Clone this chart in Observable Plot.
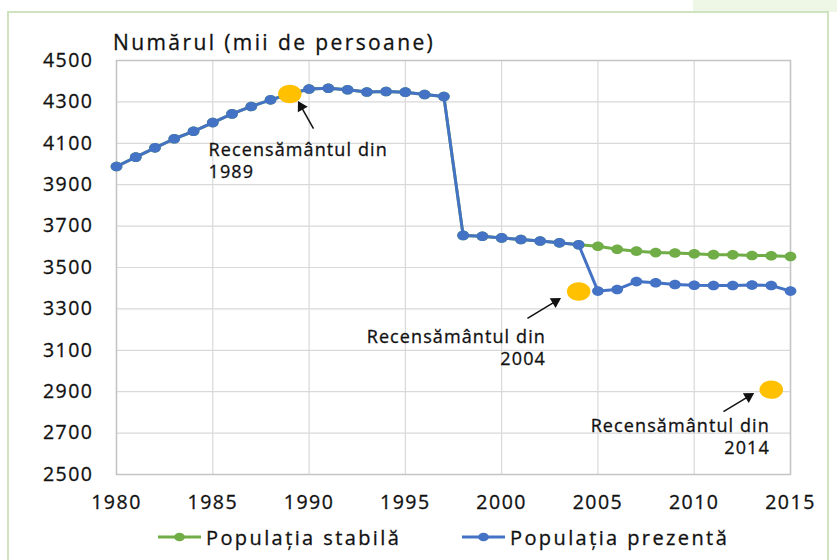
<!DOCTYPE html>
<html>
<head>
<meta charset="utf-8">
<script src="https://cdn.jsdelivr.net/npm/d3@7"></script>
<script src="https://cdn.jsdelivr.net/npm/@observablehq/plot@0.6"></script>
<style>
  html, body { margin: 0; padding: 0; background: #ffffff; }
  body { width: 837px; height: 560px; position: relative; overflow: hidden; font-family: "Open Sans", sans-serif; color: #111; }
  #deco { position: absolute; left: 693px; top: 0; width: 150px; height: 12px; background: #eef6e6; }
  #panel { position: absolute; left: 7px; top: 11px; width: 822px; height: 560px; border: 2px solid #cfe3c0; border-bottom: none; box-sizing: border-box; background: #fff; }
  #chart { position: absolute; left: 0; top: 0; }
  #title { position: absolute; left: 113px; top: 32px; font-size: 21px; letter-spacing: 2.4px; line-height: 1; white-space: nowrap; -webkit-text-stroke: 0.3px #111; }
  #legend { position: absolute; left: 0; top: 523px; width: 837px; height: 28px; font-size: 20px; letter-spacing: 2.4px; white-space: nowrap; -webkit-text-stroke: 0.3px #111; }
  .item { position: absolute; top: 0; display: flex; align-items: center; height: 28px; }
  .item svg { margin-right: 5px; }
  g[aria-label="x-axis tick label"], g[aria-label="y-axis tick label"] { letter-spacing: 1.5px; stroke: #111; stroke-width: 0.3px; }
  g[aria-label="text"] { letter-spacing: 1.1px; stroke: #111; stroke-width: 0.3px; }
</style>
</head>
<body>
<div id="deco"></div>
<div id="panel"></div>
<div id="chart"></div>
<div id="title"></div>
<div id="legend"></div>
<script>
// ---- data ----
const years = [1980,1981,1982,1983,1984,1985,1986,1987,1988,1989,1990,1991,1992,1993,1994,1995,1996,1997,1998,1999,2000,2001,2002,2003,2004,2005,2006,2007,2008,2009,2010,2011,2012,2013,2014,2015];
const prezenta = [3988,4033,4078,4122,4158,4200,4242,4278,4310,4338,4362,4366,4359,4348,4350,4347,4336,4326,3655,3651,3643,3635,3628,3619,3610,3386,3394,3432,3426,3418,3414,3413,3413,3415,3413,3386];
const stabila  = [3988,4033,4078,4122,4158,4200,4242,4278,4310,4338,4362,4366,4359,4348,4350,4347,4336,4326,3655,3651,3643,3635,3628,3619,3610,3603,3588,3579,3572,3570,3566,3562,3561,3558,3557,3553];
const censusYears = [1989, 2004, 2014];
const censusValues = [4338, 3384, 2910];
const seriesNames = ["Populația stabilă", "Populația prezentă"];
const xTicks = [1980,1985,1990,1995,2000,2005,2010,2015];
const yTicks = [2500,2700,2900,3100,3300,3500,3700,3900,4100,4300,4500];
const titleText = "Numărul (mii de persoane)";
// annotations (data coordinates)
const noteText = ["Recensământul din\n1989", "Recensământul din\n2004", "Recensământul din\n2014"];
const noteX = [1984.78, 2002.3, 2013.93];
const noteY = [4020, 3118, 2688];
const noteAnchor = ["start", "end", "end"];
const arrowX1 = [1990.23, 2001.34, 2011.52];
const arrowY1 = [4171, 3254, 2804];
const arrowX2 = [1989.50, 2002.95, 2012.98];
const arrowY2 = [4292, 3345, 2886];

const GREEN = "#70ad47", BLUE = "#4472c4", YELLOW = "#ffc000", INK = "#111111";

const stableRows = years.map((y, i) => ({year: y, value: stabila[i]}));
const presentRows = years.map((y, i) => ({year: y, value: prezenta[i]}));
const censusRows = censusYears.map((y, i) => ({year: y, value: censusValues[i]}));
const notes = noteText.map((t, i) => ({text: t, x: noteX[i], y: noteY[i], anchor: noteAnchor[i]}));
const arrows = arrowX1.map((x, i) => ({x1: x, y1: arrowY1[i], x2: arrowX2[i], y2: arrowY2[i]}));

// ellipse symbol (horizontal stretch k)
const ellipse = (k) => ({
  draw(ctx, size) {
    const r = Math.sqrt(size / Math.PI), rx = r * k, ry = r, c = 0.5523;
    ctx.moveTo(rx, 0);
    ctx.bezierCurveTo(rx, ry * c, rx * c, ry, 0, ry);
    ctx.bezierCurveTo(-rx * c, ry, -rx, ry * c, -rx, 0);
    ctx.bezierCurveTo(-rx, -ry * c, -rx * c, -ry, 0, -ry);
    ctx.bezierCurveTo(rx * c, -ry, rx, -ry * c, rx, 0);
    ctx.closePath();
  }
});

const W = 837, H = 560, ML = 116, MR = 47, MT = 60, MB = 86;
const textOpts = {x: "x", y: "y", text: "text", lineAnchor: "middle", lineHeight: 1.22, fontSize: 18, fill: INK};

function build(heads) {
  return Plot.plot({
    width: W, height: H,
    marginLeft: ML, marginRight: MR, marginTop: MT, marginBottom: MB,
    x: {domain: [1980, 2015], label: null},
    y: {domain: [2500, 4500], label: null},
    style: {fontFamily: "Open Sans, sans-serif", background: "transparent", color: INK, overflow: "visible"},
    marks: [
      Plot.gridX(xTicks, {stroke: "#d9d9d9", strokeOpacity: 1, strokeWidth: 1.2}),
      Plot.gridY(yTicks, {stroke: "#d9d9d9", strokeOpacity: 1, strokeWidth: 1.2}),
      Plot.frame({stroke: "#c4c4c4", strokeWidth: 1.5}),
      Plot.axisX(xTicks, {tickSize: 0, tickPadding: 21, fontSize: 19.5, tickFormat: d => String(d), fill: INK, label: null}),
      Plot.axisY(yTicks, {tickSize: 0, tickPadding: 23, fontSize: 19.5, tickFormat: d => String(d), fill: INK, label: null}),
      Plot.line(stableRows, {x: "year", y: "value", stroke: GREEN, strokeWidth: 3}),
      Plot.dot(stableRows, {x: "year", y: "value", fill: GREEN, r: 4.8, symbol: ellipse(1.22)}),
      Plot.line(presentRows, {x: "year", y: "value", stroke: BLUE, strokeWidth: 3}),
      Plot.dot(presentRows, {x: "year", y: "value", fill: BLUE, r: 4.8, symbol: ellipse(1.22)}),
      Plot.dot(censusRows, {x: "year", y: "value", fill: YELLOW, r: 9.2, symbol: ellipse(1.28)}),
      Plot.link(arrows, {x1: "x1", y1: "y1", x2: "x2", y2: "y2", stroke: INK, strokeWidth: 1.5}),
      heads ? Plot.dot(heads, {x: "x", y: "y", rotate: "rotate", symbol: "triangle", r: 4.2, fill: INK, stroke: "none"}) : null,
      Plot.text(notes.filter(d => d.anchor === "start"), {...textOpts, textAnchor: "start"}),
      Plot.text(notes.filter(d => d.anchor === "end"), {...textOpts, textAnchor: "end"})
    ]
  });
}

// first pass to obtain the scales, then compute arrowhead positions/orientation
const pre = build(null);
const sx = pre.scale("x"), sy = pre.scale("y");
const heads = arrows.map(a => {
  const px1 = sx.apply(a.x1), py1 = sy.apply(a.y1), px2 = sx.apply(a.x2), py2 = sy.apply(a.y2);
  const dx = px2 - px1, dy = py2 - py1, len = Math.hypot(dx, dy);
  const ux = dx / len, uy = dy / len;
  const cx = px2 - ux * 3.5, cy = py2 - uy * 3.5;
  return {x: sx.invert(cx), y: sy.invert(cy), rotate: Math.atan2(dx, -dy) * 180 / Math.PI};
});
const chart = build(heads);
document.getElementById("chart").appendChild(chart);
document.getElementById("title").textContent = titleText;

// legend
const legend = document.getElementById("legend");
const legendItems = [
  {name: seriesNames[0], color: GREEN, left: 158},
  {name: seriesNames[1], color: BLUE, left: 462}
];
for (const it of legendItems) {
  const div = document.createElement("div");
  div.className = "item";
  div.style.left = it.left + "px";
  div.innerHTML = `<svg width="43" height="12"><line x1="0" y1="6" x2="43" y2="6" stroke="${it.color}" stroke-width="3"/><ellipse cx="21.5" cy="6" rx="5.4" ry="4.3" fill="${it.color}"/></svg><span></span>`;
  div.querySelector("span").textContent = it.name;
  legend.appendChild(div);
}
</script>
</body>
</html>
